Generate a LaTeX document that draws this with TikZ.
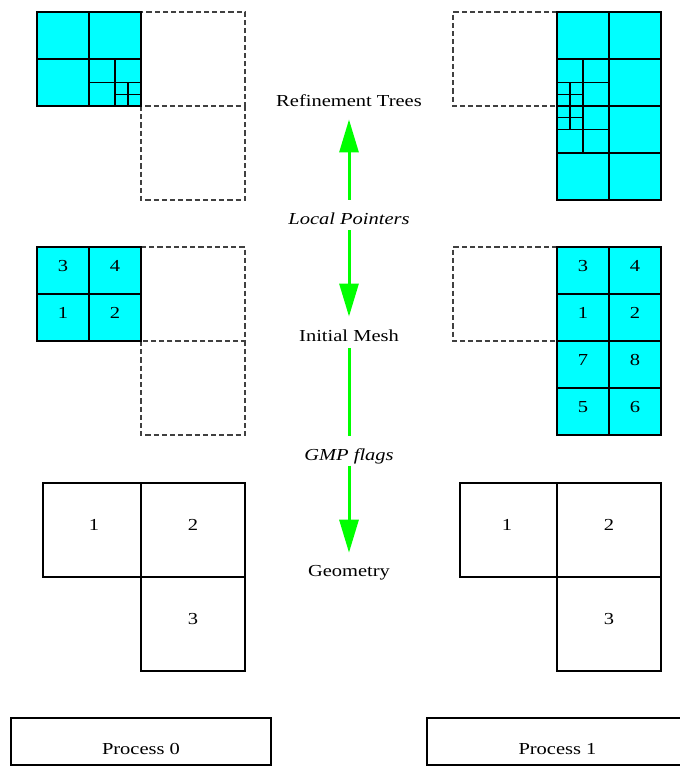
\documentclass[tikz,border=0pt]{standalone}
\usepackage{fontspec}
\setmainfont{Liberation Serif}
\usetikzlibrary{arrows.meta}
\definecolor{meshcyan}{RGB}{0,255,255}
\definecolor{flowgreen}{RGB}{0,255,0}
\newcommand\widetext[1]{\scalebox{1.22}[1]{#1}}
\begin{document}
\begin{tikzpicture}[x=0.5pt,y=-0.5pt,
  mesh/.style={fill=meshcyan, draw=black, line width=0.55pt},
  edge/.style={draw=black, line width=0.55pt},
  ghost/.style={draw=black!75, line width=0.55pt, dash pattern=on 2.6pt off 1.5pt},
  box/.style={draw=black, line width=0.55pt},
  lbl/.style={inner sep=0pt, outer sep=0pt, anchor=base, font=\fontsize{8.4}{10}\selectfont},
  flow/.style={draw=flowgreen, line width=1.5pt},
  tip/.style={-{Triangle[width=9.5pt,length=16.5pt]}},
  tipback/.style={{Triangle[width=9.5pt,length=16.5pt]}-}]
\clip (0,0) rectangle (680,766);
\fill[white] (0,0) rectangle (680,766);

% ---------- refinement trees, process 0 ----------
\draw[ghost] (141,12) rectangle (245,106);
\draw[ghost] (141,106) -- (141,200) -- (245,200) -- (245,106);
\draw[mesh] (37,12) rectangle (141,106);
\draw[edge] (89,12) -- (89,106) (37,59) -- (141,59);
\draw[edge] (115,59) -- (115,106) (89,82.5) -- (141,82.5);
\draw[edge] (128,82.5) -- (128,106) (115,94.25) -- (141,94.25);

% ---------- refinement trees, process 1 ----------
\draw[ghost] (557,12) -- (453,12) -- (453,106) -- (557,106);
\draw[mesh] (557,12) rectangle (661,200);
\draw[edge] (609,12) -- (609,200);
\draw[edge] (557,59) -- (661,59) (557,106) -- (661,106) (557,153) -- (661,153);
\draw[edge] (583,59) -- (583,153) (557,82.5) -- (609,82.5) (557,129.5) -- (609,129.5);
\draw[edge] (570,82.5) -- (570,129.5) (557,94.25) -- (583,94.25) (557,117.75) -- (583,117.75);

% ---------- initial mesh, process 0 ----------
\draw[ghost] (141,247) -- (245,247) -- (245,341) -- (141,341);
\draw[ghost] (141,341) -- (141,435) -- (245,435) -- (245,341);
\draw[mesh] (37,247) rectangle (141,341);
\draw[edge] (89,247) -- (89,341) (37,294) -- (141,294);
\node[lbl] (m0c3) at (63,271) {\widetext{3}};
\node[lbl] (m0c4) at (115,271) {\widetext{4}};
\node[lbl] (m0c1) at (63,318) {\widetext{1}};
\node[lbl] (m0c2) at (115,318) {\widetext{2}};

% ---------- initial mesh, process 1 ----------
\draw[ghost] (557,247) -- (453,247) -- (453,341) -- (557,341);
\draw[mesh] (557,247) rectangle (661,435);
\draw[edge] (609,247) -- (609,435);
\draw[edge] (557,294) -- (661,294) (557,341) -- (661,341) (557,388) -- (661,388);
\node[lbl] (m1c3) at (583,271) {\widetext{3}};
\node[lbl] (m1c4) at (635,271) {\widetext{4}};
\node[lbl] (m1c1) at (583,318) {\widetext{1}};
\node[lbl] (m1c2) at (635,318) {\widetext{2}};
\node[lbl] (m1c7) at (583,365) {\widetext{7}};
\node[lbl] (m1c8) at (635,365) {\widetext{8}};
\node[lbl] (m1c5) at (583,412) {\widetext{5}};
\node[lbl] (m1c6) at (635,412) {\widetext{6}};

% ---------- geometry, process 0 ----------
\draw[box] (43,483) rectangle (141,577);
\draw[box] (141,483) rectangle (245,577);
\draw[box] (141,577) rectangle (245,671);
\node[lbl] (g0b1) at (94,530) {\widetext{1}};
\node[lbl] (g0b2) at (193,530) {\widetext{2}};
\node[lbl] (g0b3) at (193,624) {\widetext{3}};

% ---------- geometry, process 1 ----------
\draw[box] (460,483) rectangle (557,577);
\draw[box] (557,483) rectangle (661,577);
\draw[box] (557,577) rectangle (661,671);
\node[lbl] (g1b1) at (507,530) {\widetext{1}};
\node[lbl] (g1b2) at (609,530) {\widetext{2}};
\node[lbl] (g1b3) at (609,624) {\widetext{3}};

% ---------- process boxes ----------
\draw[box] (11,718) rectangle (271,765);
\node[lbl] (p0) at (141,754) {\widetext{Process 0}};
\draw[box] (427,718) rectangle (688,765);
\node[lbl] (p1) at (557.5,754) {\widetext{Process 1}};

% ---------- data layers and their links ----------
\node[lbl] (rt)  at (349,106.7) {\widetext{Refinement Trees}};
\node[lbl] (lp)  at (349,224)   {\widetext{\itshape Local Pointers}};
\node[lbl] (im)  at (349,341.7) {\widetext{Initial Mesh}};
\node[lbl] (gf)  at (349,460)   {\widetext{\itshape GMP flags}};
\node[lbl] (geo) at (349,576.7) {\widetext{Geometry}};

\draw[flow, tipback, shorten <=6.3pt, shorten >=6.25pt] (rt.south) -- (lp.north);
\draw[flow, tip, shorten <=3pt, shorten >=6.75pt] (lp.south) -- (im.north);
\draw[flow, shorten <=3.15pt, shorten >=6.25pt] (im.south) -- (gf.north);
\draw[flow, tip, shorten <=1pt, shorten >=6.45pt] (gf.south) -- (geo.north);
\end{tikzpicture}
\end{document}
